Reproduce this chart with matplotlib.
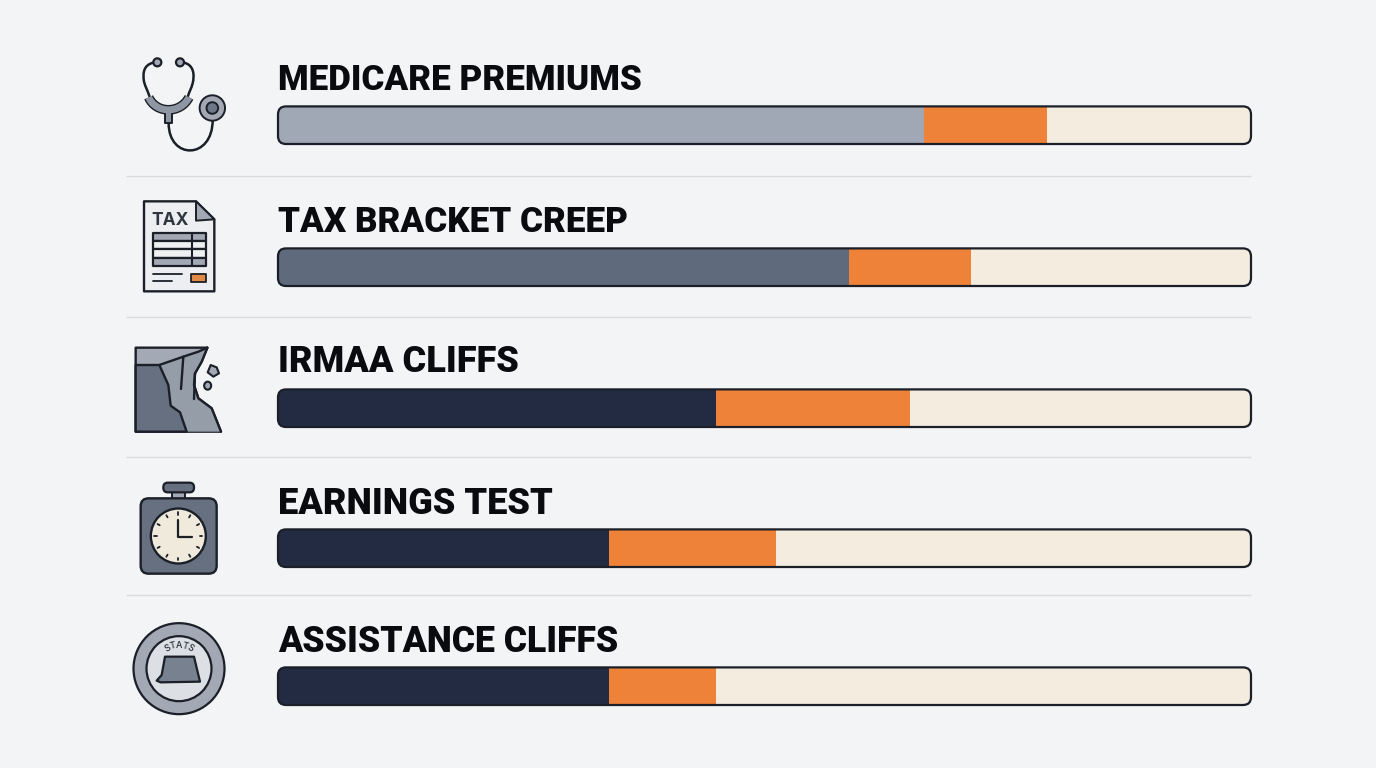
import numpy as np
import matplotlib
matplotlib.use("Agg")
import matplotlib.pyplot as plt
from matplotlib.patches import FancyBboxPatch, Polygon, Circle, Rectangle, PathPatch, Ellipse
from matplotlib.path import Path

# Share of each bar, in percent of the full track
categories = ["MEDICARE PREMIUMS", "TAX BRACKET CREEP", "IRMAA CLIFFS", "EARNINGS TEST", "ASSISTANCE CLIFFS"]
base_values = [66.4, 58.7, 45.0, 34.0, 34.0]
orange_values = [12.6, 12.5, 20.0, 17.2, 11.0]
base_colors = ["#a0a8b5", "#5f6b7d", "#232b43", "#232b43", "#232b43"]
row_centers = [125.2, 267.2, 408.2, 548.2, 686.2]
label_baselines = [89.5, 231.5, 372.5, 513.5, 651.5]
label_sizes = [25.2, 25.2, 26, 26, 25.7]
separator_rows = [176, 317, 457, 595]

INK = "#1b1f27"
BG = "#f3f4f6"
ORANGE = "#ef8239"
CREAM = "#f3ecdf"
LIGHT = "#a2a9b4"
MID = "#8e96a4"
DARK = "#667080"

W, H = 1376, 768
TRACK_L, TRACK_R = 278, 1251
BAR_H = 37.6

fig = plt.figure(figsize=(W / 100, H / 100), dpi=100, facecolor=BG)

# Bars live on a percent scale, with rows placed on a pixel-like y axis
bar_ax = fig.add_axes([TRACK_L / W, 0, (TRACK_R - TRACK_L) / W, 1], zorder=1)
bar_ax.set_xlim(0, 100)
bar_ax.set_ylim(H, 0)
bar_ax.axis("off")

# Overlay for labels, outlines, separators and icons
ov = fig.add_axes([0, 0, 1, 1], zorder=2)
ov.set_xlim(0, W)
ov.set_ylim(H, 0)
ov.axis("off")
ov.patch.set_alpha(0)

for name, base, extra, col, yc, yb, fs in zip(categories, base_values, orange_values, base_colors,
                                              row_centers, label_baselines, label_sizes):
    frame = FancyBboxPatch((TRACK_L, yc - BAR_H / 2), TRACK_R - TRACK_L, BAR_H,
                           boxstyle="round,pad=0,rounding_size=8",
                           fc="none", ec=INK, lw=1.6, zorder=5)
    ov.add_patch(frame)
    b1 = bar_ax.barh(yc, base, height=BAR_H, color=col, lw=0)
    b2 = bar_ax.barh(yc, extra, left=base, height=BAR_H, color=ORANGE, lw=0)
    b3 = bar_ax.barh(yc, 100 - base - extra, left=base + extra, height=BAR_H, color=CREAM, lw=0)
    for cont in (b1, b2, b3):
        for rect in cont:
            rect.set_clip_path(frame)
    ov.text(TRACK_L, yb, name, fontsize=fs, fontweight="black", family="Roboto",
            color="#0a0b0e", ha="left", va="baseline")

for y in separator_rows:
    ov.plot([126, 1251], [y - 0.5, y - 0.5], color="#d9dbdf", lw=1.0, solid_capstyle="butt")


def mapper(ox, oy):
    """Return a converter from 3x crop units to canvas pixels."""
    return lambda pts: [(ox + x / 3, oy + y / 3) for x, y in pts]


def poly(pts, fc, lw=1.7, z=3, closed=True):
    ov.add_patch(Polygon(pts, closed=closed, fc=fc, ec=INK, lw=lw, joinstyle="round", zorder=z))


def curve(pts, lw=1.6, fc="none", color=INK, z=3, capstyle="round"):
    codes = [Path.MOVETO] + [Path.CURVE4] * (len(pts) - 1)
    ov.add_patch(PathPatch(Path(pts, codes), fc=fc, ec=color, lw=lw, capstyle=capstyle, zorder=z))


def line(pts, lw=1.7, color=INK, z=4):
    xs, ys = zip(*pts)
    ov.plot(xs, ys, color=color, lw=lw, solid_capstyle="round", solid_joinstyle="round", zorder=z)


# Stethoscope
m = mapper(120, 40)
curve(m([(100, 68), (70, 75), (68, 100), (72, 125), (76, 140), (84, 155), (88, 168)]), lw=1.8)
curve(m([(192, 68), (222, 75), (224, 105), (218, 130), (214, 145), (208, 155), (204, 168)]), lw=1.8)
yoke = m([(86, 172), (108, 222), (182, 222), (207, 172)])
curve(yoke, lw=7.0, color=INK, capstyle="butt")
curve(yoke, lw=5.0, color=MID, z=3.1, capstyle="butt")
poly(m([(134, 208), (157, 208), (157, 250), (134, 250)]), MID, lw=1.4, z=3.05)
curve(m([(146, 250), (146, 360), (278, 360), (278, 240)]), lw=1.8)
for cx in (112, 180):
    c = m([(cx, 67)])[0]
    ov.add_patch(Circle(c, 4, fc=LIGHT, ec=INK, lw=1.6, zorder=4))
c = m([(277, 204)])[0]
ov.add_patch(Circle(c, 12.7, fc=LIGHT, ec=INK, lw=1.4, zorder=4))
ov.add_patch(Circle(c, 5.8, fc="#6f7888", ec=INK, lw=1.4, zorder=5))

# Tax form
m = mapper(120, 190)
poly(m([(72, 34), (228, 34), (283, 88), (283, 304), (72, 304)]), "#eceef1")
poly(m([(228, 34), (283, 88), (228, 92)]), LIGHT, lw=1.4)
tx, ty = m([(150, 105)])[0]
ov.text(tx, ty, "TAX", fontsize=12.5, fontweight="bold", family="Inter", color="#30363f",
        ha="center", va="baseline", zorder=4)
row_edges = [130, 153, 178, 205, 229]
row_fills = [LIGHT, "#eef0f2", "#eef0f2", LIGHT]
for top, bot, fill in zip(row_edges[:-1], row_edges[1:], row_fills):
    poly(m([(98, top), (257, top), (257, bot), (98, bot)]), fill, lw=1.6, z=3.5)
line(m([(215, 130), (215, 229)]), lw=1.5)
line(m([(98, 253), (187, 253)]), lw=1.3)
line(m([(98, 272), (157, 272)]), lw=1.3)
poly(m([(212, 252), (258, 252), (258, 277), (212, 277)]), "#e08a45", lw=1.3)

# Cliff face with falling rocks
m = mapper(120, 335)
poly(m([(47, 38), (262, 38), (245, 80), (225, 115), (222, 150), (235, 190), (275, 220),
        (303, 290), (47, 290)]), "#a3aab5")
face = m([(118, 90), (190, 65), (235, 50), (262, 38), (245, 80), (225, 115), (222, 150),
          (235, 190), (275, 220), (303, 290), (200, 290), (180, 232), (152, 212), (145, 150)])
ov.add_patch(Polygon(face, closed=True, fc="#959da9", ec="none", zorder=3.01))
poly(m([(47, 90), (118, 90), (145, 150), (152, 212), (180, 232), (200, 290), (47, 290)]), DARK, z=3.02)
line(m([(118, 90), (190, 65), (235, 50), (262, 38)]))
line(m([(262, 38), (245, 80), (225, 115), (222, 150), (235, 190), (275, 220), (303, 290)]))
line(m([(190, 65), (183, 162)]))
line(m([(225, 115), (222, 192)]))
poly(m([(272, 90), (290, 97), (297, 115), (280, 125), (263, 112)]), LIGHT, lw=1.5)
c = m([(263, 152)])[0]
ov.add_patch(Ellipse(c, 7, 8, fc=LIGHT, ec=INK, lw=1.5, zorder=3))

# Stopwatch
m = mapper(120, 475)
(x0, y0), (x1, y1) = m([(157, 52), (195, 72)])
ov.add_patch(Rectangle((x0, y0), x1 - x0, y1 - y0, fc=LIGHT, ec=INK, lw=1.4, zorder=3))
(x0, y0), (x1, y1) = m([(130, 23), (222, 52)])
ov.add_patch(FancyBboxPatch((x0, y0), x1 - x0, y1 - y0, boxstyle="round,pad=0,rounding_size=4.5",
                            fc=DARK, ec=INK, lw=1.6, zorder=3))
(x0, y0), (x1, y1) = m([(62, 70), (290, 296)])
ov.add_patch(FancyBboxPatch((x0, y0), x1 - x0, y1 - y0, boxstyle="round,pad=0,rounding_size=8",
                            fc=DARK, ec=INK, lw=1.7, zorder=3))
c = m([(175, 183)])[0]
ov.add_patch(Circle(c, 27.5, fc="#f0eadc", ec=INK, lw=1.7, zorder=4))
for k in range(12):
    a = np.radians(30 * k)
    r1, r2 = 21.5, 24.0
    line([(c[0] + r1 * np.sin(a), c[1] - r1 * np.cos(a)),
          (c[0] + r2 * np.sin(a), c[1] - r2 * np.cos(a))], lw=1.3, z=5)
line(m([(175, 135), (175, 185), (217, 185)]), lw=1.6, z=5)

# State assistance seal
m = mapper(120, 610)
c = m([(177, 176)])[0]
ov.add_patch(Circle(c, 45.5, fc=LIGHT, ec=INK, lw=1.6, zorder=3))
ov.add_patch(Circle(c, 32.5, fc="#dcdfe4", ec=INK, lw=1.6, zorder=3.1))
poly(m([(135, 140), (222, 140), (240, 215), (122, 217), (110, 212), (125, 195)]), "#78818f", lw=1.6, z=3.2)
seal_word = "STATS"
seal_angles = [-29, -14.5, 0, 14.5, 29]
for ch, ang in zip(seal_word, seal_angles):
    a = np.radians(ang)
    r = 23.5
    ov.text(c[0] + r * np.sin(a), c[1] - r * np.cos(a), ch, fontsize=6.5, family="Inter",
            fontweight="medium", color="#2a2f38", rotation=-ang, rotation_mode="anchor",
            ha="center", va="center", zorder=4)

fig.savefig("out.png", dpi=100, facecolor=BG)
